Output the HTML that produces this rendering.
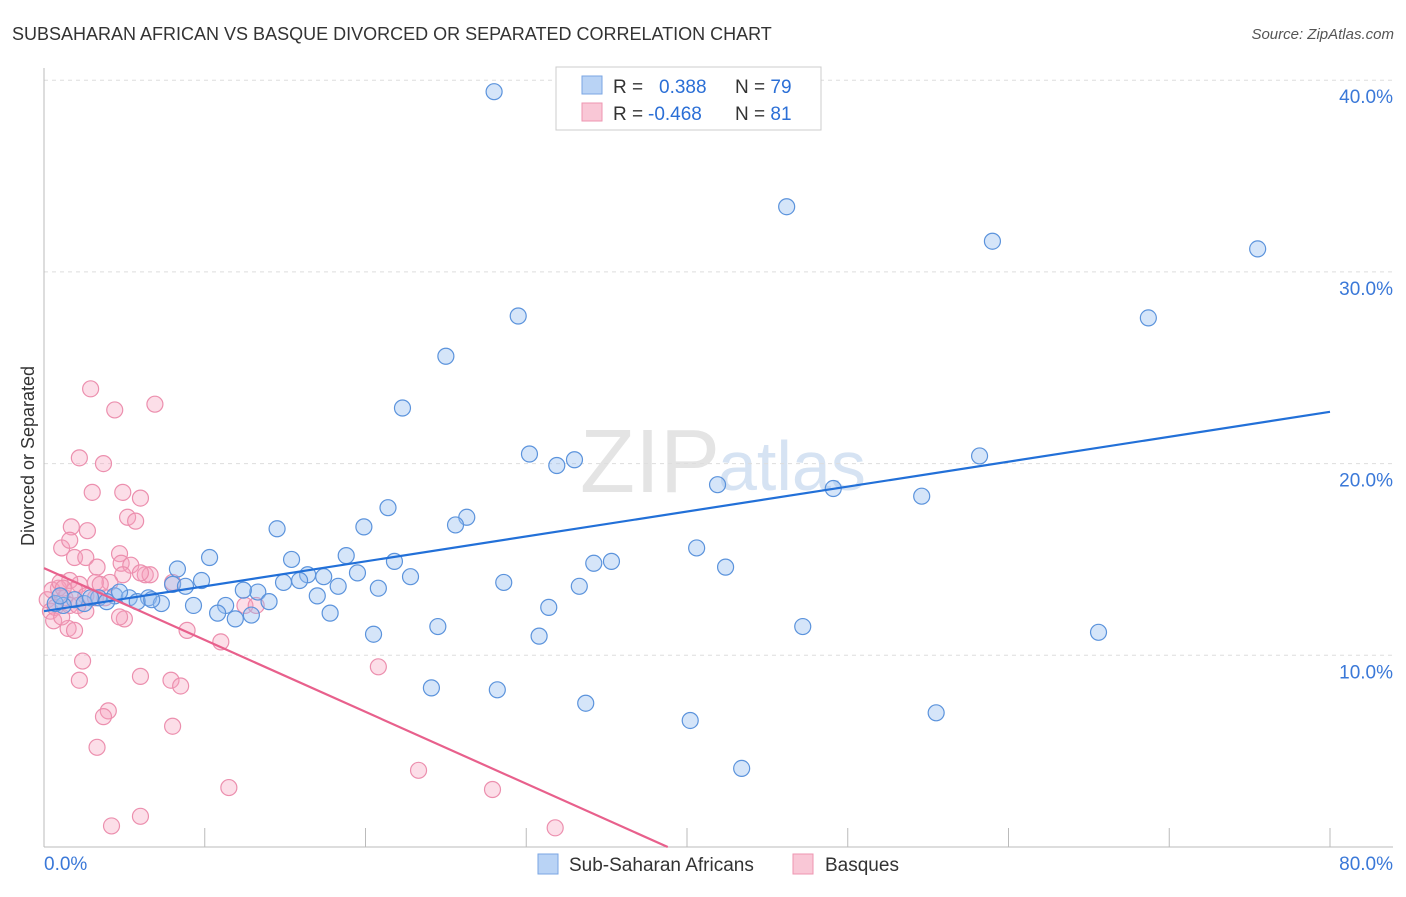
<!DOCTYPE html>
<html><head><meta charset="utf-8"><style>
body{margin:0;background:#fff;font-family:"Liberation Sans",sans-serif}
svg text{font-family:"Liberation Sans",sans-serif}
</style></head><body>
<svg id="c" width="1406" height="892">
<text x="12" y="40" font-size="18" fill="#333">SUBSAHARAN AFRICAN VS BASQUE DIVORCED OR SEPARATED CORRELATION CHART</text>
<text x="1394" y="39" font-size="15" fill="#555" font-style="italic" text-anchor="end">Source: ZipAtlas.com</text>
<text x="720" y="492" font-size="90" fill="#e4e4e4" text-anchor="end" font-family="Liberation Serif">ZIP</text>
<text x="718" y="490" font-size="70" fill="#d6e3f3">atlas</text>
<text transform="translate(34,456) rotate(-90)" font-size="18" fill="#333" text-anchor="middle">Divorced or Separated</text>
<g id="grid"></g><g id="pts"></g><g id="lines"></g>
<g>
<rect x="556" y="67" width="265" height="63" fill="#fff" stroke="#ccc"/>
<rect x="582" y="76" width="20" height="18" fill="#b9d3f5" stroke="#7aa6e3"/>
<rect x="582" y="103" width="20" height="18" fill="#f9c7d6" stroke="#ee95b0"/>
<text x="613" y="93" font-size="19" fill="#333">R = <tspan fill="#2b6fd6" x="659">0.388</tspan><tspan x="735" fill="#333">N = </tspan><tspan fill="#2b6fd6">79</tspan></text>
<text x="613" y="120" font-size="19" fill="#333">R = <tspan fill="#2b6fd6" x="648">-0.468</tspan><tspan x="735" fill="#333">N = </tspan><tspan fill="#2b6fd6"> 81</tspan></text>
</g>
<g>
<rect x="538" y="854" width="20" height="20" fill="#b9d3f5" stroke="#7aa6e3"/>
<text x="569" y="871" font-size="19" fill="#333">Sub-Saharan Africans</text>
<rect x="793" y="854" width="20" height="20" fill="#f9c7d6" stroke="#ee95b0"/>
<text x="825" y="871" font-size="19" fill="#333">Basques</text>
</g>
</svg>
<script>
const blueX=[28.0,46.2,59.0,75.5,29.5,68.7,25.0,22.3,30.2,33.0,31.9,41.9,49.1,54.6,58.2,21.4,26.3,25.6,19.9,14.5,40.6,10.3,18.8,15.4,8.3,34.2,35.3,42.4,21.8,19.5,22.8,17.4,16.4,15.9,14.9,9.8,8.0,8.8,28.6,33.3,18.3,20.8,13.3,12.4,17.0,6.5,4.4,5.3,3.4,7.3,9.3,11.3,14.0,31.4,10.8,11.9,12.9,17.8,24.5,47.2,20.5,30.8,65.6,24.1,28.2,33.7,40.2,55.5,43.4,1.9,1.2,0.7,2.5,3.9,5.8,6.7,4.7,2.9,1.0];
const blueY=[39.4,33.4,31.6,31.2,27.7,27.6,25.6,22.9,20.5,20.2,19.9,18.9,18.7,18.3,20.4,17.7,17.2,16.8,16.7,16.6,15.6,15.1,15.2,15.0,14.5,14.8,14.9,14.6,14.9,14.3,14.1,14.1,14.2,13.9,13.8,13.9,13.7,13.6,13.8,13.6,13.6,13.5,13.3,13.4,13.1,13.0,13.1,13.0,13.0,12.7,12.6,12.6,12.8,12.5,12.2,11.9,12.1,12.2,11.5,11.5,11.1,11.0,11.2,8.3,8.2,7.5,6.6,7.0,4.1,12.9,12.6,12.7,12.7,12.8,12.8,12.9,13.3,13.0,13.1];
const pinkX=[2.9,4.4,6.9,2.2,3.7,3.0,4.9,6.0,5.2,5.7,1.7,2.7,1.1,1.6,1.9,2.6,4.7,3.3,4.8,5.4,6.3,6.6,4.9,4.1,3.2,2.2,1.6,0.9,0.5,0.2,0.4,0.7,1.3,1.9,2.6,3.2,3.8,8.0,12.5,13.2,5.0,4.7,1.5,1.9,2.6,8.9,11.0,2.4,20.8,2.2,6.0,7.9,8.5,4.0,3.7,8.0,3.3,11.5,23.3,27.9,4.2,6.0,31.8,1.0,0.6,1.1,1.6,3.5,1.2,6.0,2.1];
const pinkY=[23.9,22.8,23.1,20.3,20.0,18.5,18.5,18.2,17.2,17.0,16.7,16.5,15.6,16.0,15.1,15.1,15.3,14.6,14.8,14.7,14.2,14.2,14.2,13.8,13.8,13.7,13.9,13.5,13.4,12.9,12.3,12.5,13.0,13.4,13.1,13.0,13.0,13.8,12.6,12.6,11.9,12.0,11.4,11.3,12.3,11.3,10.7,9.7,9.4,8.7,8.9,8.7,8.4,7.1,6.8,6.3,5.2,3.1,4.0,3.0,1.1,1.6,1.0,13.8,11.8,12.0,12.6,13.7,13.5,14.3,12.6];
const blueLine=[[0,12.3],[80,22.7]];
const pinkLine=[[0,14.55],[38.8,0]];
const yTicks=[10,20,30,40];
const yTickLabels=["10.0%","20.0%","30.0%","40.0%"];
const xTicks=[0,10,20,30,40,50,60,70,80];
const NS="http://www.w3.org/2000/svg";
const X=v=>44+v*1286/80, Y=v=>847-v*19.17;
function mk(p,t,a){const e=document.createElementNS(NS,t);for(const k in a)e.setAttribute(k,a[k]);p.appendChild(e);return e;}
const g=document.getElementById('grid'),pts=document.getElementById('pts'),ln=document.getElementById('lines');
yTicks.forEach((t,i)=>{
 const l=mk(g,'line',{x1:44,x2:1393,y1:Y(t),y2:Y(t),stroke:'#ddd','stroke-dasharray':'4,4'});
 
 
 const tx=mk(g,'text',{x:1393,y:Y(t)+23,'font-size':19,fill:'#3a78d8','text-anchor':'end'});
 tx.textContent=yTickLabels[i];
 
 
});
const ya=mk(g,'line',{x1:44,x2:44,y1:68,y2:847,stroke:'#bbb'});


const xa=mk(g,'line',{x1:44,x2:1393,y1:847,y2:847,stroke:'#bbb'});


xTicks.forEach(t=>{
 const l=mk(g,'line',{x1:X(t),x2:X(t),y1:828,y2:847,stroke:'#bbb'});
 
 
});
const xl0=mk(g,'text',{x:44,y:870,'font-size':19,fill:'#3a78d8'});xl0.textContent='0.0%';


const xl1=mk(g,'text',{x:1393,y:870,'font-size':19,fill:'#3a78d8','text-anchor':'end'});xl1.textContent='80.0%';


pinkX.forEach((x,i)=>{
 const c=mk(pts,'circle',{cx:X(x),cy:Y(pinkY[i]),r:8,fill:'rgba(246,160,188,0.35)',stroke:'#ec8fae','stroke-width':1.2});
 
 
});
blueX.forEach((x,i)=>{
 const c=mk(pts,'circle',{cx:X(x),cy:Y(blueY[i]),r:8,fill:'rgba(150,190,240,0.4)',stroke:'#5b93dc','stroke-width':1.2});
 
 
});
const bl=mk(ln,'line',{x1:X(blueLine[0][0]),y1:Y(blueLine[0][1]),x2:X(blueLine[1][0]),y2:Y(blueLine[1][1]),stroke:'#2270d8','stroke-width':2.2});


const pl=mk(ln,'line',{x1:X(pinkLine[0][0]),y1:Y(pinkLine[0][1]),x2:X(pinkLine[1][0]),y2:Y(pinkLine[1][1]),stroke:'#e8608c','stroke-width':2.2});


</script>
</body></html>
